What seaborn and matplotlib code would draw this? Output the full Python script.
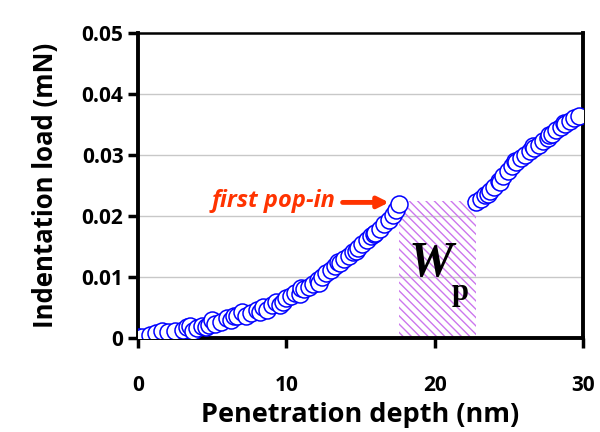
import numpy as np
import pandas as pd
import matplotlib
matplotlib.use("Agg")
import matplotlib.pyplot as plt
import seaborn as sns
from matplotlib.patches import Rectangle

# === Data ===
# loading segment before the pop-in
depth_before = [0.0, 0.3, 0.8, 1.2, 1.6, 2.0, 2.5, 3.0, 3.3, 3.7, 4.0, 4.3, 4.6,
                5.0, 5.2, 5.6, 6.0, 6.3, 6.7, 7.0, 7.3, 7.6, 8.0, 8.4, 8.7, 9.0,
                9.3, 9.6, 10.0, 10.3, 10.6, 10.9, 11.2, 11.5, 11.8, 12.1, 12.4,
                12.7, 13.0, 13.3, 13.6, 13.9, 14.2, 14.5, 14.8, 15.1, 15.4, 15.7,
                16.0, 16.3, 16.6, 16.9, 17.2, 17.4, 17.6,
                3.5, 4.8, 6.5, 8.2, 9.8, 11.0, 12.2, 13.5, 14.7, 15.9]
load_before = [0.0002, 0.0001, 0.0005, 0.0008, 0.0012, 0.0009, 0.0011, 0.0013,
               0.0017, 0.0012, 0.0016, 0.0019, 0.0017, 0.0030, 0.0022, 0.0026,
               0.0033, 0.0029, 0.0036, 0.0042, 0.0036, 0.0041, 0.0046, 0.0050,
               0.0045, 0.0054, 0.0058, 0.0053, 0.0065, 0.0068, 0.0074, 0.0072,
               0.0080, 0.0084, 0.0089, 0.0094, 0.0100, 0.0106, 0.0112, 0.0117,
               0.0122, 0.0129, 0.0134, 0.0141, 0.0148, 0.0153, 0.0160, 0.0167,
               0.0172, 0.0179, 0.0186, 0.0193, 0.0201, 0.0210, 0.0220,
               0.0019, 0.0021, 0.0035, 0.0043, 0.0058, 0.0082, 0.0090, 0.0125,
               0.0142, 0.0170]
# loading segment after the pop-in
depth_after = [22.8, 23.1, 23.4, 23.7, 24.0, 24.3, 24.6, 24.9, 25.2, 25.5, 25.8,
               26.1, 26.4, 26.7, 27.0, 27.3, 27.6, 27.9, 28.2, 28.5, 28.8, 29.1,
               29.4, 29.7, 23.6, 24.4, 25.4, 26.6, 27.7, 28.7]
load_after = [0.0222, 0.0228, 0.0234, 0.0241, 0.0248, 0.0257, 0.0265, 0.0273,
              0.0281, 0.0289, 0.0295, 0.0300, 0.0306, 0.0311, 0.0316, 0.0322,
              0.0328, 0.0334, 0.0340, 0.0345, 0.0350, 0.0355, 0.0360, 0.0364,
              0.0235, 0.0256, 0.0290, 0.0314, 0.0333, 0.0352]

popin_start = 17.6
popin_end = 22.8
popin_load = 0.0224

df = pd.DataFrame({"depth": depth_before + depth_after,
                   "load": load_before + load_after})
df = df.sort_values("depth")

sns.set_style("white")
plt.rcParams['font.family'] = ['Open Sans', 'DejaVu Sans']
plt.rcParams['hatch.linewidth'] = 1.0
plt.rcParams['text.color'] = 'black'
plt.rcParams['axes.labelcolor'] = 'black'
plt.rcParams['xtick.color'] = 'black'
plt.rcParams['ytick.color'] = 'black'

fig = plt.figure(figsize=(6, 4.32), dpi=100)
ax = fig.add_axes([0.23, 0.218, 0.742, 0.706])

# gridlines
for yv in [0.01, 0.02, 0.03, 0.04]:
    ax.axhline(yv, color='#c8c8c8', lw=1.0, zorder=0)

# W_p hatched region
rect = Rectangle((popin_start, 0), popin_end - popin_start, popin_load,
                 facecolor='none', edgecolor='#cc77ee', hatch='\\\\\\\\',
                 lw=0, zorder=1)
ax.add_patch(rect)

sns.scatterplot(data=df, x="depth", y="load", ax=ax, s=150,
                facecolor='white', edgecolor='blue', linewidth=1.1,
                zorder=3, legend=False)

ax.text(19.7, 0.0121, 'W', family='Liberation Serif', style='italic',
        weight='bold', fontsize=36, color='black', ha='center',
        va='center', zorder=4)
ax.text(21.7, 0.0074, 'p', family='Liberation Serif', weight='bold',
        fontsize=22, color='black', ha='center', va='center', zorder=4)

# annotation
ax.annotate('', xy=(17.1, 0.0222), xytext=(13.6, 0.0222),
            arrowprops=dict(arrowstyle='-|>', color='#ff3300', lw=3.5,
                            mutation_scale=16), zorder=4)
ax.text(13.3, 0.0224, 'first pop-in', color='#ff3300', style='italic',
        weight='bold', fontsize=17, ha='right', va='center')

ax.set_xlim(0, 30)
ax.set_ylim(0, 0.05)
ax.set_xticks([0, 10, 20, 30])
ax.set_yticks([0, 0.01, 0.02, 0.03, 0.04, 0.05])
ax.set_yticklabels(['0', '0.01', '0.02', '0.03', '0.04', '0.05'])
ax.tick_params(axis='both', direction='out', length=7, width=2.5,
               labelsize=15, color='black', labelcolor='black',
               left=True, bottom=True)
ax.tick_params(axis='x', pad=20)
for lab in ax.get_xticklabels() + ax.get_yticklabels():
    lab.set_fontweight('bold')

for side in ['left', 'right', 'bottom']:
    ax.spines[side].set_linewidth(2.8)
    ax.spines[side].set_color('black')
ax.spines['top'].set_linewidth(1.8)
ax.spines['top'].set_color('black')

ax.set_xlabel('Penetration depth (nm)', fontsize=19.5, fontweight='bold',
              labelpad=4, color='black')
ax.set_ylabel('Indentation load (mN)', fontsize=18.5, fontweight='bold',
              labelpad=16, color='black')

fig.savefig('out.png', dpi=100)
